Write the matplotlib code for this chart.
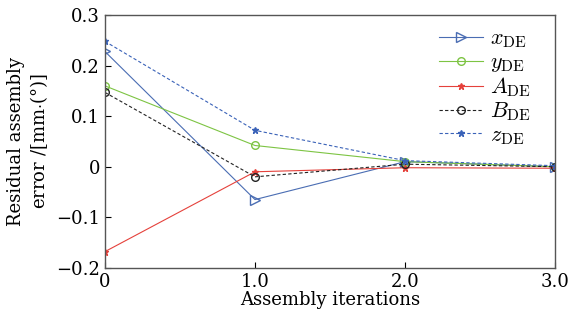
import matplotlib
matplotlib.use('Agg')
from matplotlib import pyplot as plt

# 데이터
iters = [0, 1.0, 2.0, 3.0]
x_de = [0.228, -0.065, 0.010, 0.000]
y_de = [0.160, 0.042, 0.010, 0.000]
a_de = [-0.168, -0.010, -0.002, -0.003]
b_de = [0.147, -0.020, 0.005, 0.000]
z_de = [0.248, 0.072, 0.012, 0.002]
xticks = [0, 1.0, 2.0, 3.0]
xtick_labels = ['0', '1.0', '2.0', '3.0']
yticks = [-0.2, -0.1, 0, 0.1, 0.2, 0.3]
ytick_labels = ['\u22120.2', '\u22120.1', '0', '0.1', '0.2', '0.3']

plt.rcParams['font.family'] = 'DejaVu Serif'
plt.rcParams['mathtext.fontset'] = 'cm'

fig = plt.figure(figsize=(5.7, 3.2), dpi=100)
ax = fig.add_axes([0.184, 0.163, 0.790, 0.790])

ax.plot(iters, x_de, color='#4a6db3', lw=0.8, marker='>', ms=6.5, mfc='none', label=r'$x_{\rm DE}$')
ax.plot(iters, y_de, color='#7dc443', lw=0.8, marker='o', ms=5.5, mfc='none', label=r'$y_{\rm DE}$')
ax.plot(iters, a_de, color='#e5413b', lw=0.8, marker='*', ms=5, label=r'$A_{\rm DE}$')
ax.plot(iters, b_de, color='#222222', lw=0.8, ls='--', dashes=(3, 2), marker='o', ms=5.5, mfc='none', label=r'$B_{\rm DE}$')
ax.plot(iters, z_de, color='#3a62b8', lw=0.8, ls='--', dashes=(3, 2), marker='*', ms=5, label=r'$z_{\rm DE}$')

ax.set_xlim(0, 3.0)
ax.set_ylim(-0.2, 0.3)
ax.set_xticks(xticks)
ax.set_xticklabels(xtick_labels)
ax.set_yticks(yticks)
ax.set_yticklabels(ytick_labels)
ax.tick_params(direction='in', labelsize=13, length=4, width=0.8)
for s in ax.spines.values():
    s.set_color('#555555')
    s.set_linewidth(1.0)

ax.set_xlabel('Assembly iterations', fontsize=13, labelpad=0)
ax.set_ylabel('Residual assembly\nerror /[mm$\\cdot$(°)]', fontsize=13, labelpad=4)

ax.legend(loc='upper right', frameon=False, fontsize=16, handlelength=2.0,
          handletextpad=0.3, labelspacing=0.05, bbox_to_anchor=(0.99, 1.03))

fig.savefig('out.png', dpi=100)
